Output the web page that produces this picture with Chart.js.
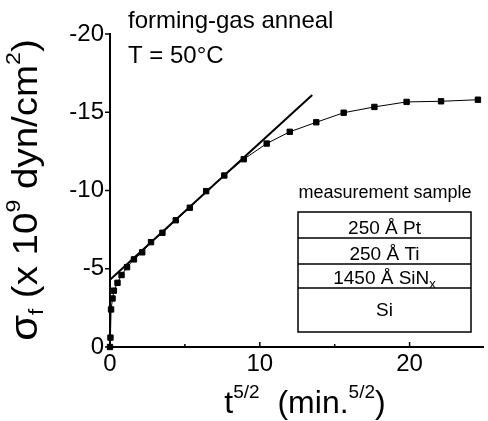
<!DOCTYPE html>
<html>
<head>
<meta charset="utf-8">
<script src="https://cdn.jsdelivr.net/npm/chart.js@4/dist/chart.umd.min.js"></script>
<style>
  html, body { margin: 0; padding: 0; background: #fff; }
  #wrap { width: 488px; height: 421px; }
</style>
</head>
<body>
<div id="wrap"><canvas id="c" width="488" height="421"></canvas></div>
<script>
// ---- data ----
const xValues = [0, 0.03, 0.07, 0.17, 0.26, 0.5, 0.77, 1.14, 1.6, 2.15, 2.74, 3.5, 4.39, 5.33, 6.42, 7.63, 8.93, 10.46, 12.0, 13.77, 15.6, 17.65, 19.8, 22.1, 24.56];
const yValues = [0, -0.6, -2.4, -3.1, -3.6, -4.1, -4.6, -5.1, -5.6, -6.05, -6.7, -7.3, -8.1, -8.9, -9.96, -10.96, -12.0, -13.0, -13.75, -14.36, -14.97, -15.34, -15.66, -15.7, -15.8];
const fitX = [0, 13.5];
const fitY = [-4.3, -16.1];
const xTicks = [0, 10, 20];
const xMinorTicks = [5, 15];
const yTicks = [-20, -15, -10, -5, 0];
const annotationLines = ["forming-gas anneal", "T = 50°C"];
const insetTitle = "measurement sample";
const layerLabels = [["250 Å Pt", ""], ["250 Å Ti", ""], ["1450 Å SiN", "x"], ["Si", ""]];

const FONT = "'Liberation Sans', Arial, Helvetica, sans-serif";

function richWidth(ctx, parts) {
  let w = 0;
  for (const p of parts) { ctx.font = p.size + "px " + FONT; w += ctx.measureText(p.t).width; }
  return w;
}
function drawRich(ctx, parts, x, y) {
  let cx = x;
  for (const p of parts) {
    ctx.font = p.size + "px " + FONT;
    ctx.fillText(p.t, cx, y + (p.dy || 0));
    cx += ctx.measureText(p.t).width;
  }
}

const decor = {
  id: 'decor',
  afterDraw(chart) {
    const ctx = chart.ctx;
    const xs = chart.scales.x, ys = chart.scales.y;
    const ca = chart.chartArea;
    ctx.save();
    ctx.fillStyle = '#000';
    ctx.strokeStyle = '#000';
    // ticks
    ctx.lineWidth = 1.5;
    ctx.beginPath();
    for (const v of xTicks) { const px = xs.getPixelForValue(v); ctx.moveTo(px, ca.bottom); ctx.lineTo(px, ca.bottom - 5); }
    for (const v of xMinorTicks) { const px = xs.getPixelForValue(v); ctx.moveTo(px, ca.bottom); ctx.lineTo(px, ca.bottom - 3); }
    for (const v of yTicks) { const py = ys.getPixelForValue(v); ctx.moveTo(ca.left, py); ctx.lineTo(ca.left - 5, py); }
    ctx.stroke();

    // annotation text
    ctx.textBaseline = 'alphabetic';
    ctx.textAlign = 'left';
    ctx.font = "24px " + FONT;
    ctx.fillText(annotationLines[0], 128, 28);
    ctx.fillText(annotationLines[1], 128, 63);

    // inset
    ctx.font = "18px " + FONT;
    ctx.textAlign = 'center';
    ctx.fillText(insetTitle, 385, 198);
    const bx0 = 298, bx1 = 471;
    const rows = [212, 238, 264, 288, 332];
    ctx.lineWidth = 1.5;
    ctx.strokeRect(bx0, rows[0], bx1 - bx0, rows[4] - rows[0]);
    ctx.beginPath();
    for (let i = 1; i < 4; i++) { ctx.moveTo(bx0, rows[i]); ctx.lineTo(bx1, rows[i]); }
    ctx.stroke();
    ctx.textAlign = 'left';
    for (let i = 0; i < 4; i++) {
      const parts = [{t: layerLabels[i][0], size: 19}];
      if (layerLabels[i][1]) parts.push({t: layerLabels[i][1], size: 13, dy: 4});
      const w = richWidth(ctx, parts);
      const base = i === 3 ? rows[3] + 28 : rows[i + 1] - 4;
      drawRich(ctx, parts, (bx0 + bx1) / 2 - w / 2, base);
    }

    // x axis title
    const xt = [{t: "t", size: 32}, {t: "5/2", size: 19, dy: -15}, {t: "  (min.", size: 32}, {t: "5/2", size: 19, dy: -15}, {t: ")", size: 32}];
    const xw = richWidth(ctx, xt);
    drawRich(ctx, xt, 305 - xw / 2, 413);

    // y axis title
    const yt = [{t: "σ", size: 38}, {t: "f", size: 20, dy: 6}, {t: " (x 10", size: 35}, {t: "9", size: 21, dy: -17}, {t: " dyn/cm", size: 35}, {t: "2", size: 21, dy: -17}, {t: ")", size: 35}];
    const yw = richWidth(ctx, yt);
    ctx.translate(37, 190);
    ctx.rotate(-Math.PI / 2);
    ctx.scale(1.1, 1);
    drawRich(ctx, yt, -yw / 2, 0);
    ctx.restore();
  }
};

new Chart(document.getElementById('c'), {
  type: 'scatter',
  data: {
    datasets: [
      {
        label: 'fit',
        data: fitX.map((x, i) => ({x, y: fitY[i]})),
        showLine: true,
        borderColor: '#000',
        borderWidth: 2,
        pointRadius: 0,
        order: 2
      },
      {
        label: 'data',
        data: xValues.map((x, i) => ({x, y: yValues[i]})),
        showLine: true,
        borderColor: '#000',
        borderWidth: 1,
        pointStyle: 'rect',
        pointRadius: 3.8,
        backgroundColor: '#000',
        pointBackgroundColor: '#000',
        pointBorderColor: '#000',
        order: 1
      }
    ]
  },
  options: {
    responsive: false,
    animation: false,
    clip: false,
    layout: { padding: { top: 34, right: 0, left: 0, bottom: 0 } },
    plugins: { legend: { display: false }, tooltip: { enabled: false } },
    scales: {
      x: {
        type: 'linear',
        min: 0,
        max: 24.9,
        afterFit: s => { s.height = 74; },
        afterBuildTicks: s => { s.ticks = xTicks.map(v => ({value: v})); },
        grid: { display: true, drawOnChartArea: false, drawTicks: false },
        border: { display: true, color: '#000', width: 2 },
        ticks: { color: '#000', padding: 3, font: { family: FONT, size: 24 }, callback: v => String(v) }
      },
      y: {
        type: 'linear',
        reverse: true,
        min: -20,
        max: 0,
        afterFit: s => { s.width = 110; },
        afterBuildTicks: s => { s.ticks = yTicks.map(v => ({value: v})); },
        grid: { display: true, drawOnChartArea: false, drawTicks: false },
        border: { display: true, color: '#000', width: 2 },
        ticks: { color: '#000', padding: 6, font: { family: FONT, size: 24 }, callback: v => String(v) }
      }
    }
  },
  plugins: [decor]
});
</script>
</body>
</html>
